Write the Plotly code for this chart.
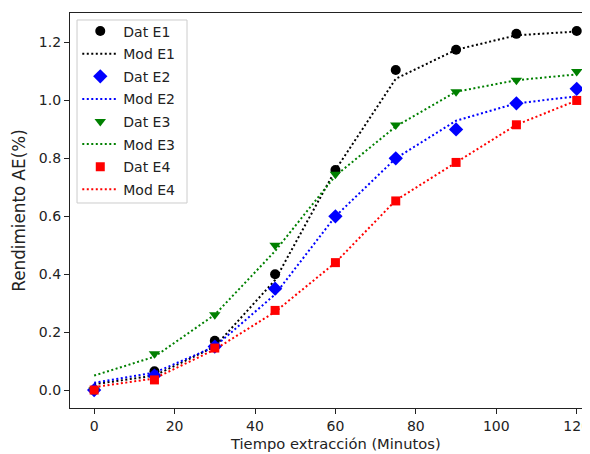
import plotly.graph_objects as go

tiempo = [0, 15, 30, 45, 60, 75, 90, 105, 120]

dat_e1 = [0.0, 0.065, 0.17, 0.40, 0.76, 1.105, 1.175, 1.23, 1.24]
mod_e1 = [0.02, 0.05, 0.15, 0.38, 0.76, 1.075, 1.175, 1.225, 1.238]
dat_e2 = [0.0, 0.05, 0.15, 0.35, 0.60, 0.80, 0.90, 0.99, 1.04]
mod_e2 = [0.025, 0.06, 0.15, 0.33, 0.60, 0.80, 0.93, 0.99, 1.014]
dat_e3 = [0.0, 0.125, 0.26, 0.50, 0.745, 0.915, 1.03, 1.07, 1.10]
mod_e3 = [0.05, 0.115, 0.26, 0.48, 0.74, 0.91, 1.03, 1.07, 1.09]
dat_e4 = [0.0, 0.035, 0.145, 0.275, 0.44, 0.653, 0.786, 0.916, 1.0]
mod_e4 = [0.01, 0.04, 0.14, 0.27, 0.44, 0.655, 0.786, 0.916, 1.0]

x_title = "Tiempo extracción (Minutos)"
y_title = "Rendimiento AE(%)"

series = [
    ("E1", dat_e1, mod_e1, "black", "circle", 10),
    ("E2", dat_e2, mod_e2, "#0000ff", "diamond", 11),
    ("E3", dat_e3, mod_e3, "#008000", "triangle-down", 10),
    ("E4", dat_e4, mod_e4, "#ff0000", "square", 9),
]

fig = go.Figure()
for name, dat, mod, color, sym, size in series:
    fig.add_trace(go.Scatter(
        x=tiempo, y=dat, mode="markers", name="Dat " + name,
        legendgroup="d" + name,
        marker=dict(color=color, symbol=sym, size=size, line=dict(width=0)),
    ))
    fig.add_trace(go.Scatter(
        x=tiempo, y=mod, mode="lines", name="Mod " + name,
        legendgroup="m" + name,
        line=dict(color=color, dash="2px,2.5px", width=2),
    ))

axis_common = dict(
    showline=True, linecolor="#222", linewidth=1.2, mirror=True,
    ticks="outside", ticklen=5, tickcolor="#222", tickwidth=1,
    showgrid=False, zeroline=False, automargin=False,
    ticklabeloverflow="allow",
    tickfont=dict(family="DejaVu Sans", size=14, color="#222"),
)

# the page body has an 8px margin, so the figure is sized to fit the window
fig.update_layout(
    width=582, height=446,
    margin=dict(l=62, r=0, t=5, b=46),
    paper_bgcolor="white", plot_bgcolor="white",
    font=dict(family="DejaVu Sans", size=14, color="#222"),
    xaxis=dict(range=[-6, 123.3], tickvals=[0, 20, 40, 60, 80, 100, 120],
               **axis_common),
    yaxis=dict(range=[-0.062, 1.302], tickvals=[0, 0.2, 0.4, 0.6, 0.8, 1.0, 1.2],
               tickformat=".1f",
               title=dict(text=y_title, standoff=8, font=dict(size=16.8)),
               **axis_common),
    legend=dict(x=0.014, y=0.9937, xanchor="left", yanchor="top",
                bgcolor="rgba(0,0,0,0)", borderwidth=0,
                font=dict(family="DejaVu Sans", size=14),
                tracegroupgap=1.4, itemwidth=36),
    showlegend=True,
    shapes=[dict(type="rect", xref="paper", yref="paper",
                 x0=0.0135, x1=0.225, y0=0.519, y1=0.9823,
                 fillcolor="rgba(255,255,255,0.8)",
                 line=dict(color="#cccccc", width=1), layer="above")],
    annotations=[dict(text=x_title, xref="paper", yref="paper",
                      x=0.5106, y=-0.09, xanchor="center", yanchor="middle",
                      showarrow=False, font=dict(size=14.7, color="#222"))],
)

fig.write_html("out.html")
